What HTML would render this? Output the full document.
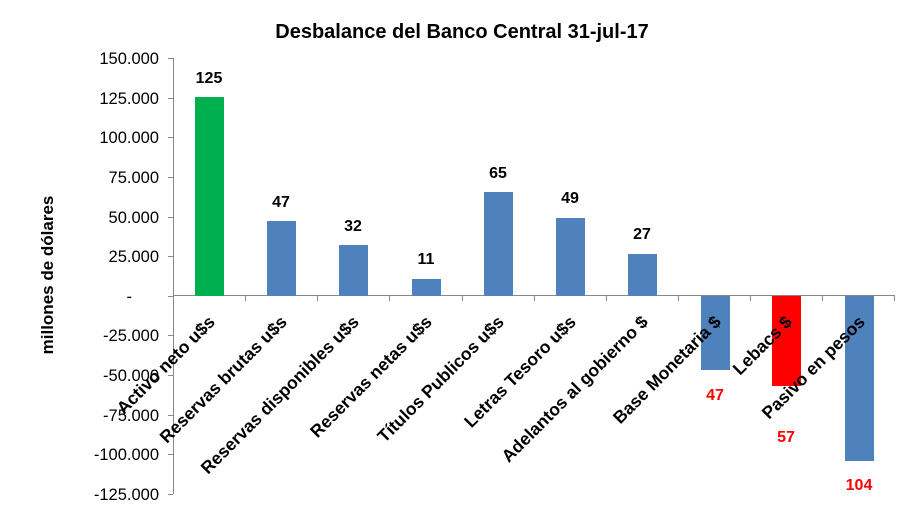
<!DOCTYPE html>
<html><head><meta charset="utf-8"><style>body{margin:0;background:#fff}svg{display:block}text{font-family:"Liberation Sans",sans-serif}</style></head><body>
<svg width="924" height="520" xmlns="http://www.w3.org/2000/svg">
<text x="462" y="38" text-anchor="middle" font-size="20" font-weight="bold">Desbalance del Banco Central 31-jul-17</text>
<text transform="translate(53,275) rotate(-90)" text-anchor="middle" font-size="17" font-weight="bold">millones de dólares</text>
<g font-size="16.5" text-anchor="end" fill="#000">
<text x="159" y="64">150.000</text><text x="159" y="104">125.000</text><text x="159" y="143">100.000</text>
<text x="159" y="183">75.000</text><text x="159" y="223">50.000</text><text x="159" y="262">25.000</text>
<text x="132" y="302">-</text><text x="159" y="341">-25.000</text><text x="159" y="381">-50.000</text>
<text x="159" y="421">-75.000</text><text x="159" y="460">-100.000</text><text x="159" y="500">-125.000</text>
</g>
<g stroke="#888" stroke-width="1">
<line x1="173.5" y1="58" x2="173.5" y2="494"/>
<line x1="168" y1="58.5" x2="173" y2="58.5"/><line x1="168" y1="98.5" x2="173" y2="98.5"/><line x1="168" y1="137.5" x2="173" y2="137.5"/>
<line x1="168" y1="177.5" x2="173" y2="177.5"/><line x1="168" y1="217.5" x2="173" y2="217.5"/><line x1="168" y1="256.5" x2="173" y2="256.5"/>
<line x1="168" y1="296.5" x2="173" y2="296.5"/><line x1="168" y1="335.5" x2="173" y2="335.5"/><line x1="168" y1="375.5" x2="173" y2="375.5"/>
<line x1="168" y1="415.5" x2="173" y2="415.5"/><line x1="168" y1="454.5" x2="173" y2="454.5"/><line x1="168" y1="494.5" x2="173" y2="494.5"/>
<line x1="173" y1="295.5" x2="895" y2="295.5"/>
<line x1="245.5" y1="295" x2="245.5" y2="301"/><line x1="317.5" y1="295" x2="317.5" y2="301"/><line x1="389.5" y1="295" x2="389.5" y2="301"/>
<line x1="462.5" y1="295" x2="462.5" y2="301"/><line x1="534.5" y1="295" x2="534.5" y2="301"/><line x1="606.5" y1="295" x2="606.5" y2="301"/>
<line x1="678.5" y1="295" x2="678.5" y2="301"/><line x1="750.5" y1="295" x2="750.5" y2="301"/><line x1="822.5" y1="295" x2="822.5" y2="301"/><line x1="894.5" y1="295" x2="894.5" y2="301"/>
</g>
<rect x="195" y="97" width="29" height="199" fill="#00b050"/>
<rect x="267" y="221" width="29" height="75" fill="#4f81bd"/>
<rect x="339" y="245" width="29" height="51" fill="#4f81bd"/>
<rect x="412" y="279" width="29" height="17" fill="#4f81bd"/>
<rect x="484" y="192" width="29" height="104" fill="#4f81bd"/>
<rect x="556" y="218" width="29" height="78" fill="#4f81bd"/>
<rect x="628" y="254" width="29" height="42" fill="#4f81bd"/>
<rect x="701" y="296" width="29" height="74" fill="#4f81bd"/>
<rect x="772" y="296" width="29" height="90" fill="#ff0000"/>
<rect x="845" y="296" width="29" height="165" fill="#4f81bd"/>
<g font-size="16" font-weight="bold" text-anchor="middle">
<text x="209" y="83">125</text><text x="281" y="207">47</text><text x="353" y="231">32</text><text x="426" y="264">11</text>
<text x="498" y="178">65</text><text x="570" y="203">49</text><text x="642" y="239">27</text>
<g fill="#ff0000"><text x="715" y="400">47</text><text x="786" y="442">57</text><text x="859" y="490">104</text></g>
</g>
<g font-size="17.5" font-weight="bold" text-anchor="end">
<text transform="translate(216,323) rotate(-45)">Activo neto u$s</text>
<text transform="translate(288,323) rotate(-45)">Reservas brutas u$s</text>
<text transform="translate(360,323) rotate(-45)">Reservas disponibles u$s</text>
<text transform="translate(433,323) rotate(-45)">Reservas netas u$s</text>
<text transform="translate(505,323) rotate(-45)">Títulos Publicos u$s</text>
<text transform="translate(577,323) rotate(-45)">Letras Tesoro u$s</text>
<text transform="translate(649,323) rotate(-45)">Adelantos al gobierno $</text>
<text transform="translate(722,323) rotate(-45)">Base Monetaria $</text>
<text transform="translate(793,323) rotate(-45)">Lebacs $</text>
<text transform="translate(866,323) rotate(-45)">Pasivo en pesos</text>
</g>
</svg>
</body></html>
